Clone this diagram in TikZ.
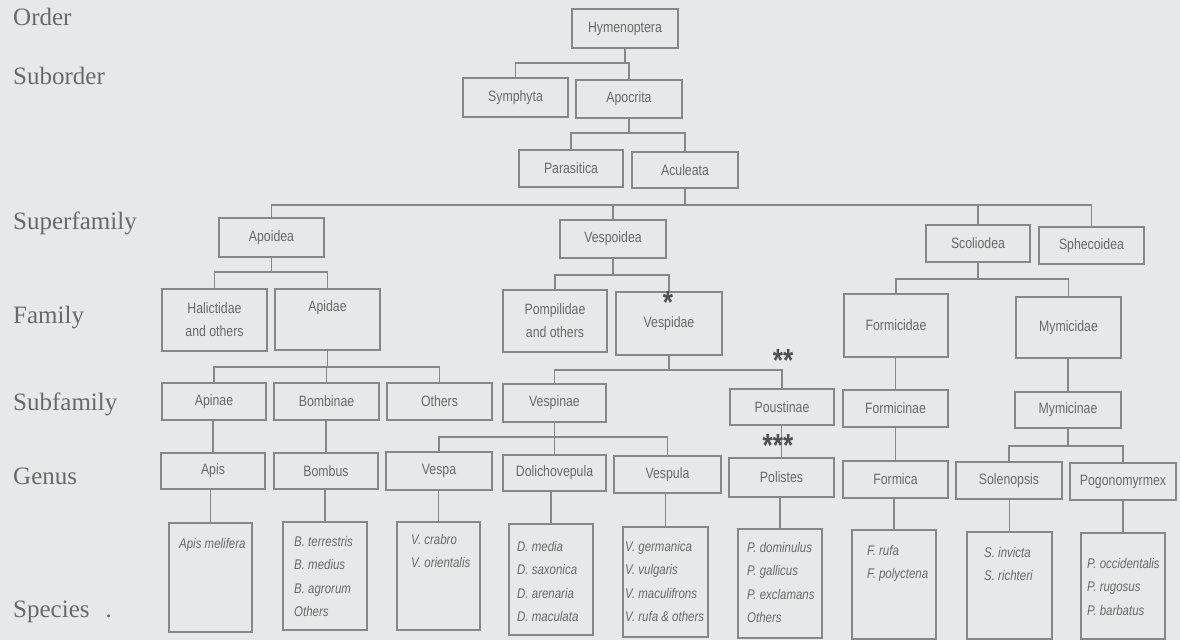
\documentclass[tikz,border=0pt]{standalone}
\usepackage{fontspec}
\setmainfont{Liberation Serif}
\newfontfamily\nf[FakeStretch=0.82]{Liberation Sans}
\newfontfamily\lf{Liberation Serif}
\definecolor{bg}{RGB}{231,232,233}
\definecolor{ln}{RGB}{135,135,135}
\definecolor{tx}{RGB}{105,105,105}
\definecolor{ast}{RGB}{80,80,80}
\newcommand{\mybox}[6]{\node[box,minimum width={(#4)-(#2)},minimum height={(#5)-(#3)}] (#1) at ({((#2)+(#4))/2},{((#3)+(#5))/2}) {#6};}
\newcommand{\tlink}[3]{\coordinate (tmpbus) at (0,#3); \draw[conn] (#1.south) -- (#1.south |- tmpbus) (#2.north) |- (#1.south |- tmpbus);}
\newcommand{\slink}[2]{\draw[conn] (#2.north) -- (#2.north |- #1.south);}
\begin{document}
\begin{tikzpicture}[x=1pt,y=-1pt,
 box/.style={draw=ln,line width=1.3pt,inner sep=0pt,text=tx,font=\nf\fontsize{15}{23}\selectfont,align=center},
 txt/.style={inner sep=0pt,text=tx,font=\nf\fontsize{15}{23}\selectfont},
 conn/.style={draw=ln,line width=1.3pt},
 spec/.style={inner sep=0pt,text=tx,font=\nf\itshape\fontsize{14}{23.5}\selectfont,align=left,anchor=north west},
 lab/.style={inner sep=0pt,text=tx,font=\lf\fontsize{25}{25}\selectfont,anchor=west},
 star/.style={inner sep=0pt,text=ast,font=\nf\bfseries\fontsize{32}{32}\selectfont,text height=23pt,text depth=-13pt}]
\fill[bg] (0,0) rectangle (1180,640);
\useasboundingbox (0,0) rectangle (1180,640);
% left labels
\node[lab] (lOrder) at (13,17) {Order};
\node[lab] (lSub) at (13,76) {Suborder};
\node[lab] (lSup) at (13,223) {Superfamily};
\node[lab] (lFam) at (13,318) {Family};
\node[lab] (lSubf) at (13,404) {Subfamily};
\node[lab] (lGen) at (13,476) {Genus};
\node[lab] (lSpe) at (13,612) {Species\hspace{16pt}.};
% boxes
\mybox{hym}{572}{9}{678}{48}{Hymenoptera}
\mybox{sym}{463}{78}{568}{117}{Symphyta}
\mybox{apo}{576}{80}{682}{118}{Apocrita}
\mybox{par}{519}{150}{623}{187}{Parasitica}
\mybox{acu}{632}{152}{738}{188}{Aculeata}
\mybox{apoi}{219}{218}{324}{257}{Apoidea}
\mybox{vespo}{560}{220}{666}{258}{Vespoidea}
\mybox{scol}{926}{225}{1030}{262}{Scoliodea}
\mybox{sphe}{1039}{227}{1144}{264}{Sphecoidea}
\mybox{hali}{162}{289}{267}{351}{Halictidae\\and others}
\mybox{apid}{275}{289}{380}{350}{}
\node[txt] (apidT) at (327.5,308) {Apidae};
\mybox{pomp}{503}{290}{607}{352}{Pompilidae\\and others}
\mybox{vespi}{616}{292}{722}{355}{Vespidae}
\mybox{formi}{844}{294}{948}{357}{Formicidae}
\mybox{myrm}{1016}{297}{1121}{358}{Mymicidae}
\mybox{apin}{162}{383}{266}{420}{Apinae}
\mybox{bombi}{274}{383}{379}{420}{Bombinae}
\mybox{oth}{387}{383}{492}{420}{Others}
\mybox{vespin}{503}{384}{606}{422}{Vespinae}
\mybox{pous}{730}{389}{834}{425}{Poustinae}
\mybox{formin}{843}{390}{948}{427}{Formicinae}
\mybox{myrmin}{1015}{392}{1121}{428}{Mymicinae}
\mybox{apis}{161}{453}{265}{489}{Apis}
\mybox{bombus}{274}{453}{378}{489}{Bombus}
\mybox{vespa}{386}{452}{492}{490}{Vespa}
\mybox{doli}{503}{455}{606}{491}{Dolichovepula}
\mybox{vespula}{614}{456}{721}{493}{Vespula}
\mybox{polis}{729}{458}{834}{497}{Polistes}
\mybox{formica}{843}{461}{948}{498}{Formica}
\mybox{solen}{956}{462}{1062}{499}{Solenopsis}
\mybox{pogo}{1070}{463}{1176}{500}{Pogonomyrmex}
\mybox{sapis}{169}{523}{252}{632}{}
\mybox{sbomb}{283}{522}{367}{630}{}
\mybox{svespa}{397}{522}{480}{630}{}
\mybox{sdoli}{509}{524}{593}{635}{}
\mybox{svespula}{623}{527}{708}{637}{}
\mybox{spolis}{738}{529}{822}{638}{}
\mybox{sformica}{852}{530}{936}{639}{}
\mybox{ssolen}{967}{532}{1052}{639}{}
\mybox{spogo}{1081}{533}{1165}{639}{}
% species texts
\node[spec] (tapis) at (179,538) {Apis melifera};
\node[spec] (tbomb) at (294,536) {B. terrestris\\B. medius\\B. agrorum\\Others};
\node[spec] (tvespa) at (411,534) {V. crabro\\V. orientalis};
\node[spec] (tdoli) at (517,541) {D. media\\D. saxonica\\D. arenaria\\D. maculata};
\node[spec] (tvespula) at (625,541) {V. germanica\\V. vulgaris\\V. maculifrons\\V. rufa \& others};
\node[spec] (tpolis) at (747,542) {P. dominulus\\P. gallicus\\P. exclamans\\Others};
\node[spec] (tformica) at (867,545) {F. rufa\\F. polyctena};
\node[spec] (tsolen) at (984,547) {S. invicta\\S. richteri};
\node[spec] (tpogo) at (1087,558) {P. occidentalis\\P. rugosus\\P. barbatus};
% connectors
\tlink{hym}{sym}{63}
\tlink{hym}{apo}{63}
\tlink{apo}{par}{133}
\tlink{apo}{acu}{133}
\tlink{acu}{apoi}{205}
\tlink{acu}{vespo}{205}
\tlink{acu}{scol}{205}
\tlink{acu}{sphe}{205}
\tlink{apoi}{hali}{272}
\tlink{apoi}{apid}{272}
\tlink{vespo}{pomp}{275}
\tlink{vespo}{vespi}{275}
\tlink{scol}{formi}{279}
\tlink{scol}{myrm}{279}
\tlink{apid}{apin}{367}
\tlink{apid}{bombi}{367}
\tlink{apid}{oth}{367}
\tlink{vespi}{vespin}{370}
\tlink{vespi}{pous}{370}
\slink{formi}{formin}
\slink{myrm}{myrmin}
\slink{apin}{apis}
\slink{bombi}{bombus}
\tlink{vespin}{vespa}{437}
\tlink{vespin}{doli}{437}
\tlink{vespin}{vespula}{437}
\slink{pous}{polis}
\slink{formin}{formica}
\tlink{myrmin}{solen}{446}
\tlink{myrmin}{pogo}{446}
\slink{apis}{sapis}
\slink{bombus}{sbomb}
\slink{vespa}{svespa}
\slink{doli}{sdoli}
\slink{vespula}{svespula}
\slink{polis}{spolis}
\slink{formica}{sformica}
\slink{solen}{ssolen}
\slink{pogo}{spogo}
% asterisks
\node[star] (st1) at (668,302) {*};
\node[star] (st2) at (783,360) {**};
\node[star] (st3) at (778,445) {***};
\end{tikzpicture}
\end{document}
